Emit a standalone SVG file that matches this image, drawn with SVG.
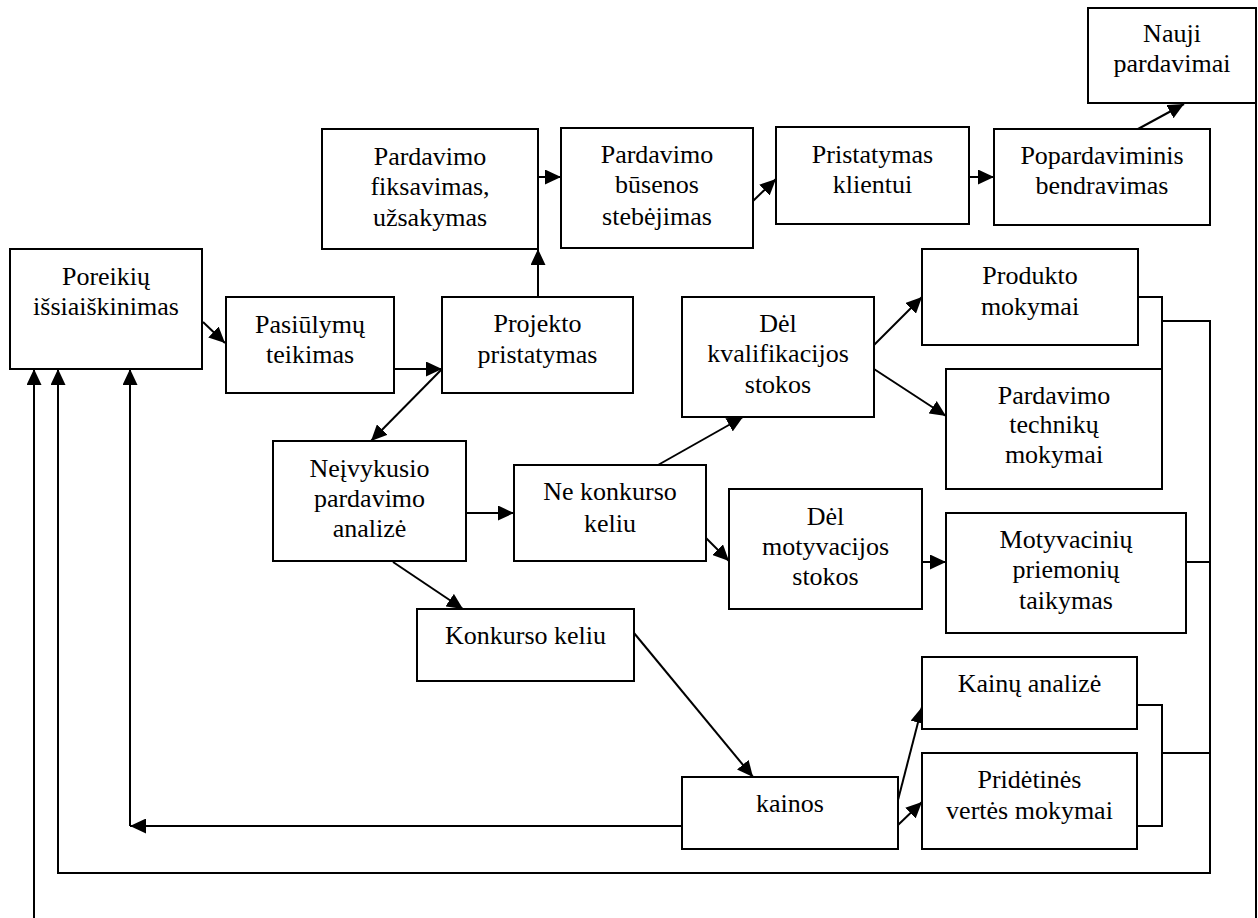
<svg xmlns="http://www.w3.org/2000/svg" width="1258" height="918" viewBox="0 0 1258 918" font-family="'Liberation Serif', 'Times New Roman', serif">
  <style>
    .box { fill: #fff; stroke: #000; stroke-width: 2; }
    .lbl { font-size: 26px; fill: #000; text-anchor: middle; }
    .wire { fill: none; stroke: #000; stroke-width: 2; }
    .arr { fill: none; stroke: #000; stroke-width: 2; marker-end: url(#head); }
  </style>
  <defs>
    <marker id="head" markerUnits="userSpaceOnUse" markerWidth="17" markerHeight="15" refX="16" refY="7.5" orient="auto">
      <path d="M0,0 L16,7.5 L0,15 Z" fill="#000"/>
    </marker>
  </defs>
  <rect width="1258" height="918" fill="#fff"/>

  <g id="connectors">
    <path class="arr" d="M203,322 L225,343"/>
    <path class="arr" d="M394,369 H442"/>
    <path class="arr" d="M442,369 L371,441"/>
    <path class="arr" d="M538,297 V249"/>
    <path class="arr" d="M538,177 H561"/>
    <path class="arr" d="M753,201 L776,179"/>
    <path class="arr" d="M969,177 H994"/>
    <path class="arr" d="M1138,129 L1184,104"/>
    <path class="arr" d="M466,513 H514"/>
    <path class="arr" d="M658,465 L743,417"/>
    <path class="arr" d="M706,538 L729,561"/>
    <path class="arr" d="M393,562 L463,609"/>
    <path class="arr" d="M874,345 L922,297"/>
    <path class="arr" d="M874,369 L946,416"/>
    <path class="arr" d="M922,562 H946"/>
    <path class="arr" d="M634,633 L753,777"/>
    <path class="arr" d="M898,800 L922,707"/>
    <path class="arr" d="M898,825 L922,802"/>
    <path class="arr" d="M682,826 H130"/>
    <path class="arr" d="M130,826 V369"/>
    <path class="wire" d="M1138,297 H1162 V369"/>
    <path class="wire" d="M1137,705 H1162 V826 H1137"/>
    <path class="wire" d="M1186,562 H1210"/>
    <path class="wire" d="M1162,753 H1210"/>
    <path class="arr" d="M1162,321 H1210 V873 H58 V369"/>
    <path class="wire" d="M1256,103 V918"/>
    <path class="arr" d="M34,918 V369"/>
  </g>

  <g id="poreikiu">
    <rect class="box" x="10" y="249" width="192" height="120"/>
    <text class="lbl"><tspan x="106" y="285">Poreikių</tspan><tspan x="106" y="315">išsiaiškinimas</tspan></text>
  </g>
  <g id="pasiulymu">
    <rect class="box" x="226" y="297" width="168" height="96"/>
    <text class="lbl"><tspan x="310" y="333">Pasiūlymų</tspan><tspan x="310" y="363">teikimas</tspan></text>
  </g>
  <g id="fiksavimas">
    <rect class="box" x="322" y="129" width="216" height="120"/>
    <text class="lbl"><tspan x="430" y="165">Pardavimo</tspan><tspan x="430" y="195">fiksavimas,</tspan><tspan x="430" y="226">užsakymas</tspan></text>
  </g>
  <g id="busenos">
    <rect class="box" x="561" y="128" width="192" height="120"/>
    <text class="lbl"><tspan x="657" y="163">Pardavimo</tspan><tspan x="657" y="193">būsenos</tspan><tspan x="657" y="225">stebėjimas</tspan></text>
  </g>
  <g id="pristatymas">
    <rect class="box" x="776" y="127" width="193" height="97"/>
    <text class="lbl"><tspan x="872.5" y="163">Pristatymas</tspan><tspan x="872.5" y="193">klientui</tspan></text>
  </g>
  <g id="popardaviminis">
    <rect class="box" x="994" y="129" width="216" height="96"/>
    <text class="lbl"><tspan x="1102" y="164">Popardaviminis</tspan><tspan x="1102" y="194">bendravimas</tspan></text>
  </g>
  <g id="nauji">
    <rect class="box" x="1088" y="8" width="168" height="95"/>
    <text class="lbl"><tspan x="1172" y="42">Nauji</tspan><tspan x="1172" y="72">pardavimai</tspan></text>
  </g>
  <g id="projekto">
    <rect class="box" x="442" y="297" width="191" height="96"/>
    <text class="lbl"><tspan x="537.5" y="332">Projekto</tspan><tspan x="537.5" y="363">pristatymas</tspan></text>
  </g>
  <g id="kvalifikacijos">
    <rect class="box" x="682" y="297" width="192" height="120"/>
    <text class="lbl"><tspan x="778" y="332">Dėl</tspan><tspan x="778" y="362">kvalifikacijos</tspan><tspan x="778" y="393">stokos</tspan></text>
  </g>
  <g id="produkto">
    <rect class="box" x="922" y="249" width="216" height="96"/>
    <text class="lbl"><tspan x="1030" y="284">Produkto</tspan><tspan x="1030" y="315">mokymai</tspan></text>
  </g>
  <g id="technikos">
    <rect class="box" x="946" y="369" width="216" height="120"/>
    <text class="lbl"><tspan x="1054" y="404">Pardavimo</tspan><tspan x="1054" y="433">technikų</tspan><tspan x="1054" y="463">mokymai</tspan></text>
  </g>
  <g id="neivykusio">
    <rect class="box" x="273" y="441" width="193" height="120"/>
    <text class="lbl"><tspan x="369.5" y="477">Neįvykusio</tspan><tspan x="369.5" y="507">pardavimo</tspan><tspan x="369.5" y="537">analizė</tspan></text>
  </g>
  <g id="ne-konkurso">
    <rect class="box" x="514" y="465" width="192" height="96"/>
    <text class="lbl"><tspan x="610" y="500">Ne konkurso</tspan><tspan x="610" y="532">keliu</tspan></text>
  </g>
  <g id="motyvacijos">
    <rect class="box" x="729" y="489" width="193" height="120"/>
    <text class="lbl"><tspan x="825.5" y="525">Dėl</tspan><tspan x="825.5" y="555">motyvacijos</tspan><tspan x="825.5" y="585">stokos</tspan></text>
  </g>
  <g id="motyvaciniu">
    <rect class="box" x="946" y="513" width="240" height="120"/>
    <text class="lbl"><tspan x="1066" y="548">Motyvacinių</tspan><tspan x="1066" y="578">priemonių</tspan><tspan x="1066" y="609">taikymas</tspan></text>
  </g>
  <g id="konkurso">
    <rect class="box" x="417" y="609" width="217" height="72"/>
    <text class="lbl" x="525.5" y="644">Konkurso keliu</text>
  </g>
  <g id="kainos">
    <rect class="box" x="682" y="777" width="216" height="72"/>
    <text class="lbl" x="790" y="812">kainos</text>
  </g>
  <g id="kainu-analize">
    <rect class="box" x="922" y="657" width="215" height="72"/>
    <text class="lbl" x="1029.5" y="692">Kainų analizė</text>
  </g>
  <g id="pridetines">
    <rect class="box" x="922" y="753" width="215" height="96"/>
    <text class="lbl"><tspan x="1029.5" y="788">Pridėtinės</tspan><tspan x="1029.5" y="819">vertės mokymai</tspan></text>
  </g>
</svg>
